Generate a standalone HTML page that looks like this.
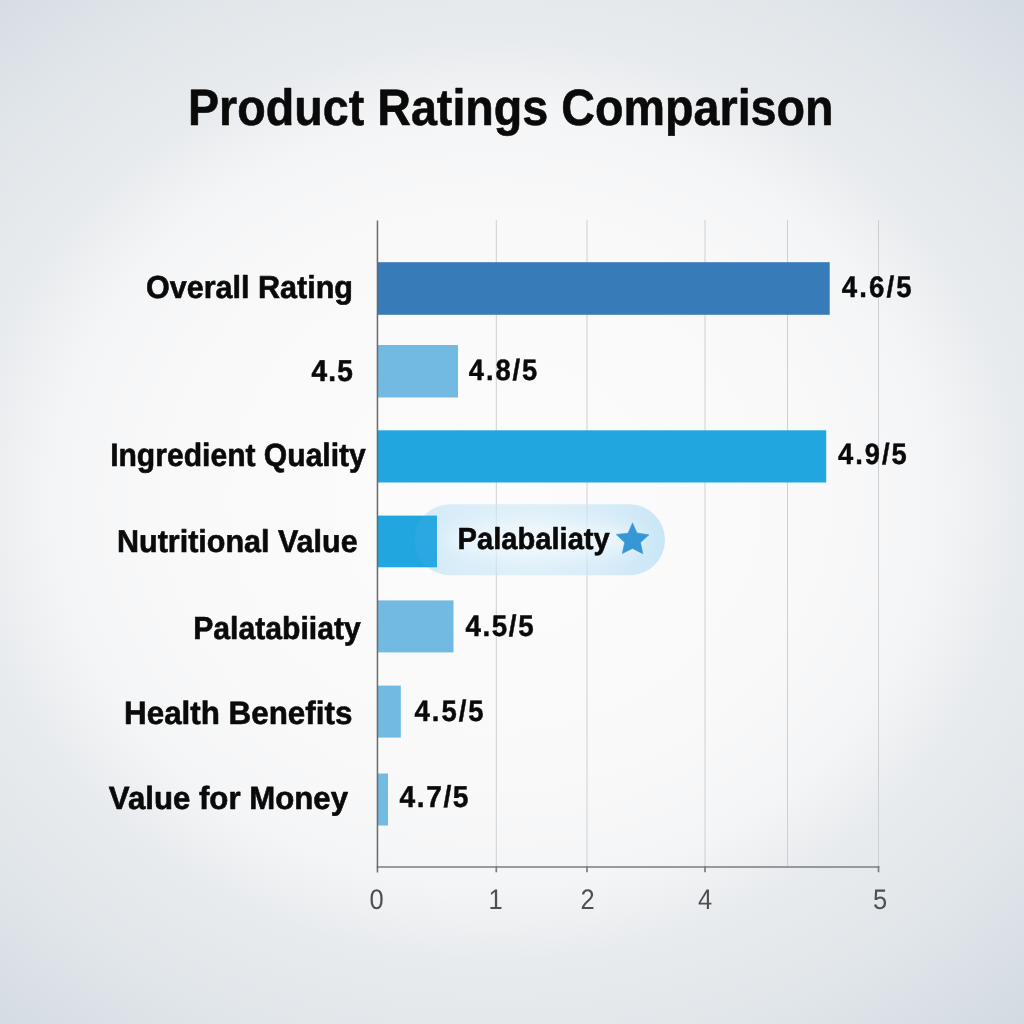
<!DOCTYPE html>
<html><head><meta charset="utf-8"><title>Product Ratings Comparison</title>
<style>
html,body{margin:0;padding:0;width:1024px;height:1024px;overflow:hidden;background:#f3f4f6}
svg{display:block}
text{text-rendering:geometricPrecision}
.t{font-family:"Liberation Sans",Arial,sans-serif;font-weight:700;fill:#0a0a0a;stroke:#0a0a0a;stroke-width:0.6;stroke-linejoin:round}
.tk{font-family:"Liberation Sans",Arial,sans-serif;font-weight:400;fill:#4f4f4f}
.tv{stroke-width:0.45}
</style></head>
<body>
<svg width="1024" height="1024" viewBox="0 0 1024 1024">
<defs>
<radialGradient id="bg" cx="495" cy="500" r="800" gradientUnits="userSpaceOnUse" gradientTransform="translate(495 500) scale(1 0.875) translate(-495 -500)">
<stop offset="0" stop-color="#fcfcfc"/>
<stop offset="0.40" stop-color="#f9f9fa"/>
<stop offset="0.55" stop-color="#f4f5f6"/>
<stop offset="0.66" stop-color="#e8ebee"/>
<stop offset="0.80" stop-color="#e1e6ea"/>
<stop offset="0.96" stop-color="#d5dce3"/>
<stop offset="1" stop-color="#d3dae2"/>
</radialGradient>
<radialGradient id="pill" cx="0.45" cy="0.5" r="0.55" gradientTransform="translate(0.45 0.5) scale(1 3.53) translate(-0.45 -0.5)">
<stop offset="0" stop-color="#46aeeb" stop-opacity="0.13"/>
<stop offset="0.6" stop-color="#46aeeb" stop-opacity="0.19"/>
<stop offset="1" stop-color="#46aeeb" stop-opacity="0.27"/>
</radialGradient>
<filter id="blur8" x="-50%" y="-50%" width="200%" height="200%"><feGaussianBlur stdDeviation="8"/></filter>
<clipPath id="pillclip"><rect x="414.5" y="504.3" width="250.5" height="71" rx="35.5"/></clipPath>
</defs>
<g>
<rect width="1024" height="1024" fill="url(#bg)"/>

<g stroke="#cdd0d3" stroke-width="1.0">
<line x1="496.3" y1="220" x2="496.3" y2="866"/>
<line x1="587" y1="220" x2="587" y2="866"/>
<line x1="705" y1="220" x2="705" y2="866"/>
<line x1="787.5" y1="220" x2="787.5" y2="866"/>
<line x1="878.5" y1="220" x2="878.5" y2="866"/>
</g>

<rect x="378" y="262.2" width="451.7" height="52.6" fill="#377bb8"/>
<rect x="378" y="345" width="80" height="52.5" fill="#72bae2"/>
<rect x="378" y="430.3" width="448.2" height="52.2" fill="#22a6df"/>
<rect x="378" y="515.6" width="59" height="51.7" fill="#22a6df"/>
<rect x="378" y="600.4" width="75.5" height="52" fill="#72bae2"/>
<rect x="378" y="685.6" width="22.8" height="52" fill="#72bae2"/>
<rect x="378" y="773.5" width="10" height="52" fill="#72bae2"/>

<g stroke="#7d7d7d" stroke-width="1.7" fill="none">
<line x1="376.7" y1="867" x2="879.3" y2="867"/>
<line x1="496.3" y1="866" x2="496.3" y2="872.3"/>
<line x1="587" y1="866" x2="587" y2="872.3"/>
<line x1="705" y1="866" x2="705" y2="872.3"/>
<line x1="878.5" y1="866" x2="878.5" y2="872.3"/>
</g>
<line x1="377.45" y1="220.5" x2="377.45" y2="872.5" stroke="#6a6a6a" stroke-width="1.5"/>

<g class="tk" font-size="28.3" text-anchor="middle">
<text transform="translate(376.7 909.4) scale(0.9 1)">0</text>
<text transform="translate(495.5 909.4) scale(0.9 1)">1</text>
<text transform="translate(587.6 909.4) scale(0.9 1)">2</text>
<text transform="translate(705.0 909.4) scale(0.9 1)">4</text>
<text transform="translate(880.0 909.4) scale(0.9 1)">5</text>
</g>

<rect x="437.2" y="504" width="230" height="72" fill="#fafbfc" opacity="0.55" clip-path="url(#pillclip)"/>
<rect x="414.5" y="504.3" width="250.5" height="71" rx="35.5" fill="url(#pill)"/>
<ellipse cx="545" cy="540" rx="100" ry="17" fill="#ffffff" opacity="0.5" filter="url(#blur8)"/>
<path d="M632.5 522.9 L637.0 533.0 L648.9 534.8 L640.5 542.6 L642.8 553.7 L632.5 548.4 L622.3 553.5 L624.7 542.6 L616.3 534.4 L628.0 533.2 Z" fill="#3597d3" stroke="#3597d3" stroke-width="0.6" stroke-linejoin="round"/>
</g>
<text class="t" x="187.88" y="124.80" font-size="51.16" textLength="645.73" lengthAdjust="spacingAndGlyphs">Product Ratings Comparison</text>
<text class="t" x="145.91" y="297.50" font-size="31.78" textLength="207.08" lengthAdjust="spacingAndGlyphs">Overall Rating</text>
<text class="t" transform="translate(311.56 380.50) scale(0.93 1)" font-size="30.23" textLength="44.47" lengthAdjust="spacing">4.5</text>
<text class="t" x="110.15" y="466.30" font-size="32.27" textLength="255.69" lengthAdjust="spacingAndGlyphs">Ingredient Quality</text>
<text class="t" x="117.01" y="551.60" font-size="31.54" textLength="240.66" lengthAdjust="spacingAndGlyphs">Nutritional Value</text>
<text class="t" x="193.25" y="638.80" font-size="31.83" textLength="167.53" lengthAdjust="spacingAndGlyphs">Palatabiiaty</text>
<text class="t" x="124.08" y="723.70" font-size="32.41" textLength="228.25" lengthAdjust="spacingAndGlyphs">Health Benefits</text>
<text class="t" x="108.85" y="808.50" font-size="32.12" textLength="239.15" lengthAdjust="spacingAndGlyphs">Value for Money</text>
<text class="t tv" transform="translate(841.78 297.27) scale(0.93 1)" font-size="29.72" textLength="75.15" lengthAdjust="spacing">4.6/5</text>
<text class="t tv" transform="translate(468.76 379.77) scale(0.93 1)" font-size="29.43" textLength="73.72" lengthAdjust="spacing">4.8/5</text>
<text class="t tv" transform="translate(838.08 464.47) scale(0.93 1)" font-size="29.43" textLength="73.76" lengthAdjust="spacing">4.9/5</text>
<text class="t tv" transform="translate(465.58 635.57) scale(0.93 1)" font-size="29.87" textLength="73.14" lengthAdjust="spacing">4.5/5</text>
<text class="t tv" transform="translate(414.57 720.67) scale(0.93 1)" font-size="29.58" textLength="74.16" lengthAdjust="spacing">4.5/5</text>
<text class="t tv" transform="translate(399.55 807.48) scale(0.93 1)" font-size="30.31" textLength="74.19" lengthAdjust="spacing">4.7/5</text>
<text class="t" x="457.61" y="549.40" font-size="30.38" textLength="152.09" lengthAdjust="spacingAndGlyphs">Palabaliaty</text>
</svg>
</body></html>
